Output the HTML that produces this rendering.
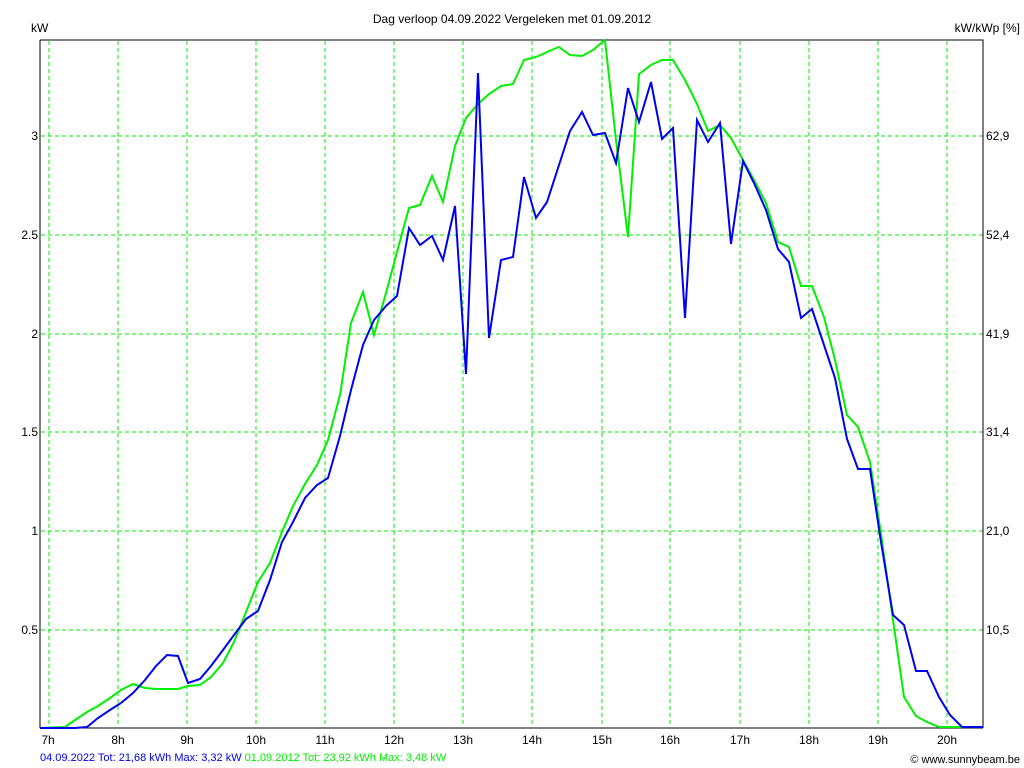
<!DOCTYPE html>
<html><head><meta charset="utf-8"><style>
html,body{margin:0;padding:0;background:#fff;}
svg{display:block;font-family:"Liberation Sans",Arial,sans-serif;}
</style></head><body>
<svg width="1024" height="768" viewBox="0 0 1024 768" xmlns="http://www.w3.org/2000/svg">
<rect width="1024" height="768" fill="#fff"/>
<g stroke="#00ee00" stroke-width="1" stroke-dasharray="4,3" fill="none">
<line x1="49" y1="41" x2="49" y2="727"/><line x1="118" y1="41" x2="118" y2="727"/><line x1="187" y1="41" x2="187" y2="727"/><line x1="256" y1="41" x2="256" y2="727"/><line x1="325" y1="41" x2="325" y2="727"/><line x1="394" y1="41" x2="394" y2="727"/><line x1="463" y1="41" x2="463" y2="727"/><line x1="532" y1="41" x2="532" y2="727"/><line x1="602" y1="41" x2="602" y2="727"/><line x1="670" y1="41" x2="670" y2="727"/><line x1="740" y1="41" x2="740" y2="727"/><line x1="809" y1="41" x2="809" y2="727"/><line x1="878" y1="41" x2="878" y2="727"/><line x1="947" y1="41" x2="947" y2="727"/>
<line x1="41" y1="136" x2="983" y2="136"/><line x1="41" y1="235" x2="983" y2="235"/><line x1="41" y1="334" x2="983" y2="334"/><line x1="41" y1="432" x2="983" y2="432"/><line x1="41" y1="531" x2="983" y2="531"/><line x1="41" y1="630" x2="983" y2="630"/>
</g>
<path d="M40,40H983V728M40,40V728" stroke="#000" stroke-width="1" fill="none"/>
<line x1="40" y1="728" x2="983" y2="728" stroke="#000"/>
<polyline fill="none" stroke="#00f000" stroke-width="2" points="40,728 65,727 75,720 87,712 98,706 110,698 121,690 133,684 145,688 156,689 167,689 178,689 188,686 200,685 211,677 223,663 234,642 246,612 258,582 270,563 282,532 293,506 305,484 317,465 328,440 340,395 351,323 363,292 374,335 386,293 397,252 409,208 420,205 432,176 443,202 455,146 466,118 478,104 489,94 501,86 513,84 524,60 536,57 547,52 559,47 570,55 582,56 593,50 605,40 616,140 628,237 639,74 651,65 662,60 673,60 685,80 697,104 708,131 720,125 731,138 743,160 754,180 766,203 778,242 789,247 801,286 812,286 824,317 835,360 847,415 858,427 870,462 881,534 893,620 904,697 916,716 927,722 939,727 983,727"/>
<polyline fill="none" stroke="#0000f0" stroke-width="2" points="40,728 75,728 87,727 98,718 110,710 121,703 133,693 145,680 156,666 167,655 178,656 188,683 200,679 211,666 223,650 234,635 246,619 258,611 270,580 282,542 293,522 305,498 317,485 328,478 340,436 351,390 363,345 374,320 386,306 397,296 409,228 420,245 432,236 443,260 455,206 466,374 478,73 489,338 501,260 513,257 524,177 536,218 547,202 559,165 570,131 582,112 593,135 605,133 616,163 628,88 639,122 651,82 662,139 673,128 685,318 697,120 708,142 720,123 731,244 743,161 754,183 766,210 778,249 789,262 801,318 812,309 824,345 835,378 847,439 858,469 870,469 881,542 893,615 904,625 916,671 927,671 939,697 950,715 962,727 983,727"/>
<g font-size="12" fill="#000">
<text x="512" y="23" text-anchor="middle">Dag  verloop 04.09.2022   Vergeleken met 01.09.2012</text>
<text x="31" y="32">kW</text>
<text x="1020" y="32" text-anchor="end">kW/kWp [%]</text>
<g text-anchor="end"><text x="38" y="140">3</text><text x="38" y="239">2.5</text><text x="38" y="338">2</text><text x="38" y="436">1.5</text><text x="38" y="535">1</text><text x="38" y="634">0.5</text></g>
<g><text x="986" y="140">62,9</text><text x="986" y="239">52,4</text><text x="986" y="338">41,9</text><text x="986" y="436">31,4</text><text x="986" y="535">21,0</text><text x="986" y="634">10,5</text></g>
<g text-anchor="middle"><text x="48" y="744">7h</text><text x="118" y="744">8h</text><text x="187" y="744">9h</text><text x="256" y="744">10h</text><text x="325" y="744">11h</text><text x="394" y="744">12h</text><text x="463" y="744">13h</text><text x="532" y="744">14h</text><text x="602" y="744">15h</text><text x="670" y="744">16h</text><text x="740" y="744">17h</text><text x="809" y="744">18h</text><text x="878" y="744">19h</text><text x="947" y="744">20h</text></g>
</g>
<text x="40" y="761" font-size="11"><tspan fill="#0000f0">04.09.2022 Tot: 21,68 kWh Max: 3,32 kW </tspan><tspan fill="#00f000">01.09.2012 Tot: 23,92 kWh Max: 3,48 kW</tspan></text>
<text x="1020" y="763" font-size="11" text-anchor="end">© www.sunnybeam.be</text>
</svg>
</body></html>
